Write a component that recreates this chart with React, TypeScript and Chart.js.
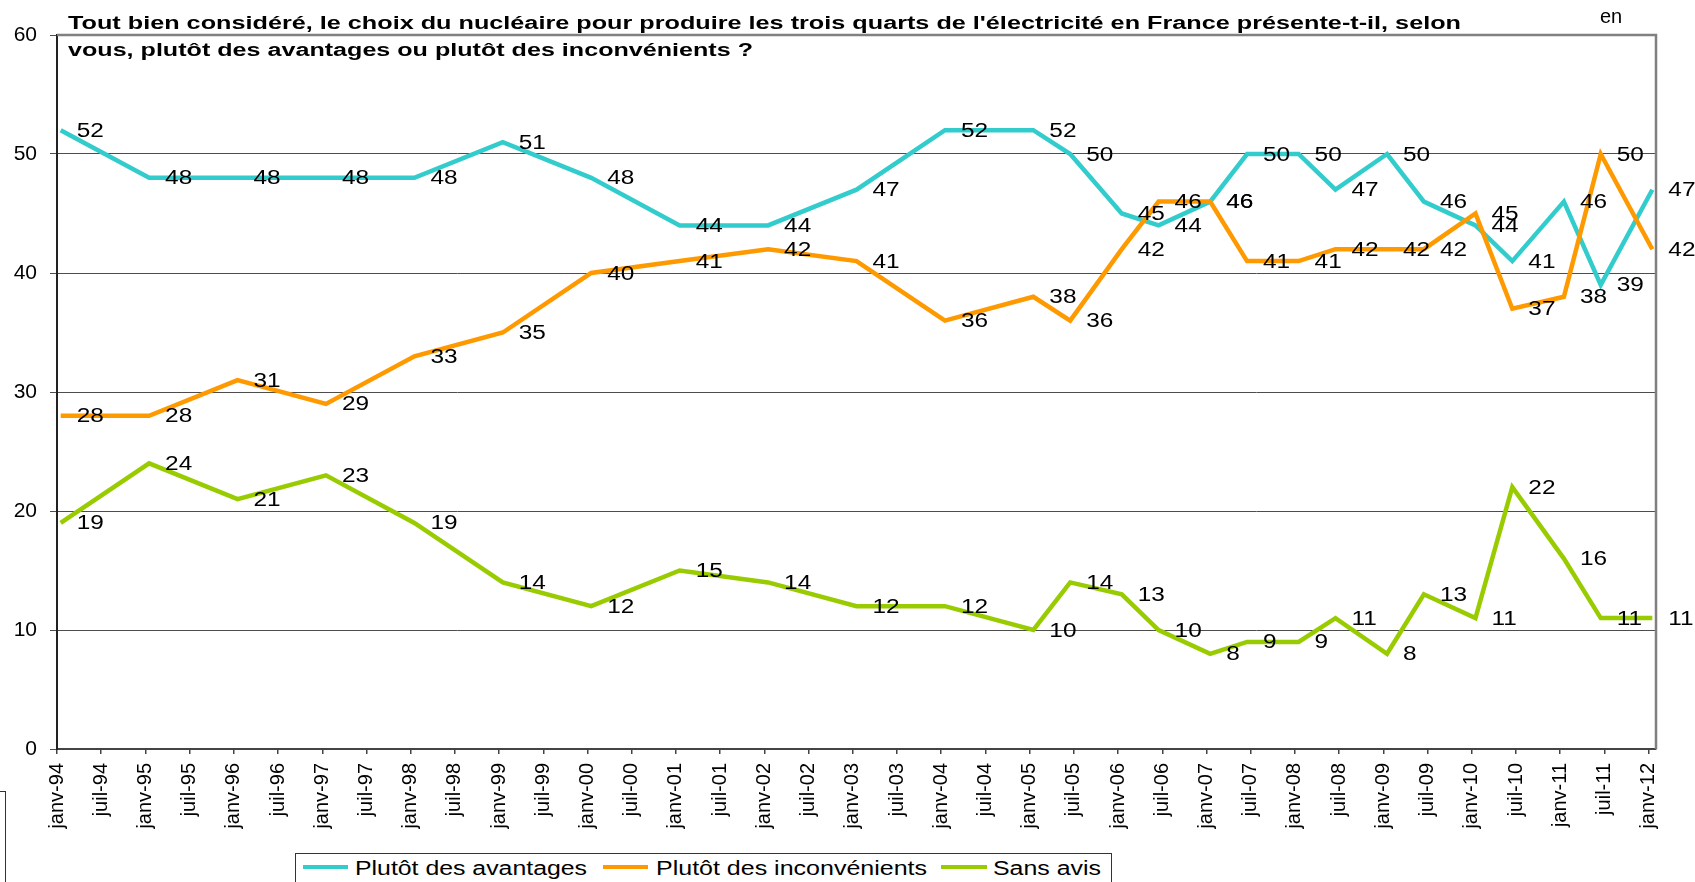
import React, { useEffect, useLayoutEffect, useRef } from 'react';
import { Chart, registerables } from 'chart.js';

Chart.register(...registerables);

const FONT = '"Liberation Sans", Arial, Helvetica, sans-serif';

// x-axis tick labels (every 6 months)
const tickLabels = [
  'janv-94', 'juil-94', 'janv-95', 'juil-95', 'janv-96', 'juil-96', 'janv-97', 'juil-97',
  'janv-98', 'juil-98', 'janv-99', 'juil-99', 'janv-00', 'juil-00', 'janv-01', 'juil-01',
  'janv-02', 'juil-02', 'janv-03', 'juil-03', 'janv-04', 'juil-04', 'janv-05', 'juil-05',
  'janv-06', 'juil-06', 'janv-07', 'juil-07', 'janv-08', 'juil-08', 'janv-09', 'juil-09',
  'janv-10', 'juil-10', 'janv-11', 'juil-11', 'janv-12',
];

// survey dates (year-month)
const surveyDates = [
  '1994-01', '1995-01', '1996-01', '1997-01', '1998-01', '1999-01', '2000-01', '2001-01',
  '2002-01', '2003-01', '2004-01', '2005-01', '2005-06', '2006-01', '2006-06', '2007-01',
  '2007-06', '2008-01', '2008-06', '2009-01', '2009-06', '2010-01', '2010-06', '2011-01',
  '2011-06', '2012-01',
];

const avantages = [52, 48, 48, 48, 48, 51, 48, 44, 44, 47, 52, 52, 50, 45, 44, 46, 50, 50, 47, 50, 46, 44, 41, 46, 39, 47];
const inconvenients = [28, 28, 31, 29, 33, 35, 40, 41, 42, 41, 36, 38, 36, 42, 46, 46, 41, 41, 42, 42, 42, 45, 37, 38, 50, 42];
const sansAvis = [19, 24, 21, 23, 19, 14, 12, 15, 14, 12, 12, 10, 14, 13, 10, 8, 9, 9, 11, 8, 13, 11, 22, 16, 11, 11];

const seriesNames = ['Plutôt des avantages', 'Plutôt des inconvénients', 'Sans avis'];
const seriesColors = ['#33CCCC', '#FF9900', '#99CC00'];

const titleLine1 = "Tout bien considéré, le choix du nucléaire pour produire les trois quarts de l'électricité en France présente-t-il, selon";
const titleLine2 = 'vous, plutôt des avantages ou plutôt des inconvénients ?';

// month index since janv-94, plotted at mid-month
const toMonth = (d: string) => {
  const [y, m] = d.split('-').map(Number);
  return (y - 1994) * 12 + (m - 1) + 0.5;
};

const points = (vals: number[]) => surveyDates.map((d, i) => ({ x: toMonth(d), y: vals[i] }));

const framePlugin = {
  id: 'frame',
  beforeDatasetsDraw(chart: any) {
    const { ctx, chartArea: a } = chart;
    ctx.save();
    ctx.strokeStyle = '#808080';
    ctx.lineWidth = 2.5;
    ctx.beginPath();
    ctx.moveTo(a.left, a.top);
    ctx.lineTo(a.right, a.top);
    ctx.lineTo(a.right, a.bottom);
    ctx.stroke();
    ctx.restore();
  },
};

const valueLabelsPlugin = {
  id: 'valueLabels',
  afterDatasetsDraw(chart: any) {
    const ctx = chart.ctx;
    ctx.save();
    ctx.font = `20px ${FONT}`;
    ctx.fillStyle = '#000';
    ctx.textBaseline = 'middle';
    ctx.textAlign = 'left';
    chart.data.datasets.forEach((ds: any, di: number) => {
      const meta = chart.getDatasetMeta(di);
      meta.data.forEach((pt: any, i: number) => {
        const v = ds.data[i].y;
        ctx.save();
        ctx.translate(pt.x + 16, pt.y + 1);
        ctx.scale(1.22, 1);
        ctx.fillText(String(v), 0, 0);
        ctx.restore();
      });
    });
    ctx.restore();
  },
};

function FitText(props: { text: string; left: number; top: number; width: number; style?: any }) {
  const ref = useRef<HTMLSpanElement>(null);
  useLayoutEffect(() => {
    const el = ref.current;
    if (!el) return;
    el.style.transform = 'none';
    const w = el.getBoundingClientRect().width;
    if (w > 0) el.style.transform = `scaleX(${props.width / w})`;
  }, [props.text, props.width]);
  return (
    <span
      ref={ref}
      style={{
        position: 'absolute',
        left: props.left,
        top: props.top,
        whiteSpace: 'nowrap',
        transformOrigin: '0 50%',
        lineHeight: 1,
        fontFamily: FONT,
        color: '#000',
        ...props.style,
      }}
    >
      {props.text}
    </span>
  );
}

export default function App() {
  const canvasRef = useRef<HTMLCanvasElement>(null);

  useEffect(() => {
    if (!canvasRef.current) return;
    const vals = [avantages, inconvenients, sansAvis];
    const chart = new Chart(canvasRef.current, {
      type: 'line',
      data: {
        datasets: vals.map((v, i) => ({
          label: seriesNames[i],
          data: points(v),
          borderColor: seriesColors[i],
          backgroundColor: seriesColors[i],
          borderWidth: 4.5,
          pointRadius: 0,
          tension: 0,
          fill: false,
          order: 3 - i,
          borderJoinStyle: 'miter' as const,
        })),
      },
      options: {
        animation: false,
        responsive: false,
        maintainAspectRatio: false,
        devicePixelRatio: 1,
        layout: { padding: { top: 35, right: 39, left: 0, bottom: 0 } },
        plugins: {
          legend: { display: false },
          tooltip: { enabled: false },
          title: { display: false },
        },
        scales: {
          x: {
            type: 'linear',
            min: 0,
            max: 217,
            afterBuildTicks: (scale: any) => {
              scale.ticks = tickLabels.map((_, i) => ({ value: i * 6 }));
            },
            afterFit: (scale: any) => {
              scale.height = 133;
            },
            ticks: {
              autoSkip: false,
              minRotation: 90,
              maxRotation: 90,
              padding: 9,
              color: '#000',
              font: { family: FONT, size: 20 },
              callback: (v: any) => tickLabels[Math.round(Number(v) / 6)] ?? '',
            },
            grid: { drawOnChartArea: false, drawTicks: true, tickLength: 5, color: '#444', lineWidth: 1.5 },
            border: { display: true, color: '#444', width: 2 },
          },
          y: {
            min: 0,
            max: 60,
            afterFit: (scale: any) => {
              scale.width = 57;
            },
            ticks: {
              stepSize: 10,
              padding: 13,
              color: '#000',
              font: { family: FONT, size: 21 },
            },
            grid: { color: '#4d4d4d', lineWidth: 1, tickLength: 7, drawTicks: true },
            border: { display: true, color: '#222', width: 2 },
          },
        },
      },
      plugins: [framePlugin, valueLabelsPlugin],
    } as any);
    return () => chart.destroy();
  }, []);

  const legendText = { fontSize: 20 };

  return (
    <div style={{ position: 'absolute', left: 0, top: 0, width: 1695, height: 882, overflow: 'hidden', background: '#fff' }}>
      <canvas ref={canvasRef} width={1695} height={882} style={{ position: 'absolute', left: 0, top: 0, width: 1695, height: 882 }} />
      <FitText text={titleLine1} left={68} top={14} width={1393} style={{ fontWeight: 'bold', fontSize: 18 }} />
      <FitText text={titleLine2} left={68} top={40.5} width={685} style={{ fontWeight: 'bold', fontSize: 18 }} />
      <span style={{ position: 'absolute', left: 1600, top: 6, fontFamily: FONT, fontSize: 20, lineHeight: 1, color: '#000' }}>en</span>
      {/* legend */}
      <div style={{ position: 'absolute', left: 295, top: 853, width: 817, height: 60, border: '1.5px solid #333', boxSizing: 'border-box', background: '#fff' }} />
      <div style={{ position: 'absolute', left: 303, top: 865, width: 45, height: 4, background: seriesColors[0] }} />
      <FitText text={seriesNames[0]} left={355} top={858} width={232} style={legendText} />
      <div style={{ position: 'absolute', left: 603, top: 865, width: 45, height: 4, background: seriesColors[1] }} />
      <FitText text={seriesNames[1]} left={656} top={858} width={271} style={legendText} />
      <div style={{ position: 'absolute', left: 941, top: 865, width: 46, height: 4, background: seriesColors[2] }} />
      <FitText text={seriesNames[2]} left={993} top={858} width={108} style={legendText} />
      {/* stray frame fragment at bottom-left */}
      <div style={{ position: 'absolute', left: -2, top: 791, width: 7, height: 120, borderTop: '1px solid #333', borderRight: '1.5px solid #333' }} />
    </div>
  );
}
